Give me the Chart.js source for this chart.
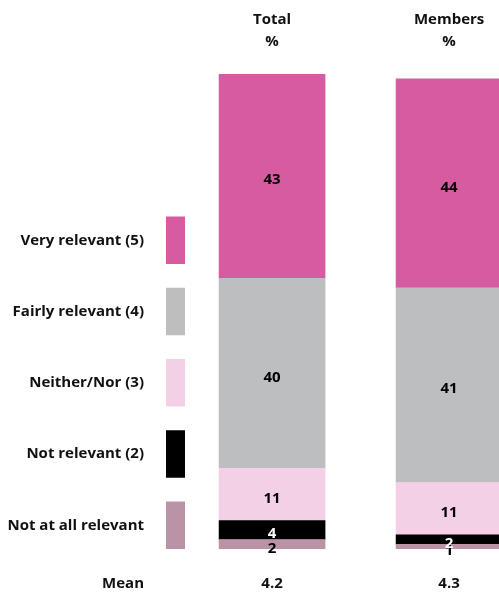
<!DOCTYPE html>
<html>
<head>
<meta charset="utf-8">
<script src="https://cdn.jsdelivr.net/npm/chart.js@4"></script>
<style>
  body { margin: 0; background: #fff; }
  canvas { display: block; }
</style>
</head>
<body>
<canvas id="chart" width="499" height="596"></canvas>
<script>
// ============================
// Data
// ============================
const categories = ["Total", "Members"];
const xPos = [0, 1];
const means = ["4.2", "4.3"];

const veryRelevant   = [43, 44];
const fairlyRelevant = [40, 41];
const neitherNor     = [11, 11];
const notRelevant    = [4, 2];
const notAtAll       = [2, 1];

// bottom to top
const seriesLabels = ["Not at all relevant", "Not relevant (2)", "Neither/Nor (3)", "Fairly relevant (4)", "Very relevant (5)"];
const seriesData   = [notAtAll, notRelevant, neitherNor, fairlyRelevant, veryRelevant];
const seriesColors = ["#bb93a7", "#000000", "#f3d0e5", "#bdbec0", "#d65ba1"];
const labelColors  = ["#000", "#fff", "#000", "#000", "#000"];

const FONT = "bold 15px 'Open Sans', sans-serif";

// ============================
// Plugin: headers, legend, values, mean
// ============================
const extras = {
    id: "extras",
    afterDatasetsDraw(chart) {
        const ctx = chart.ctx;
        const xs = chart.scales.x, ys = chart.scales.y;
        ctx.save();
        ctx.font = FONT;
        ctx.textBaseline = "middle";

        // values inside bars
        ctx.textAlign = "center";
        chart.data.datasets.forEach((ds, i) => {
            chart.getDatasetMeta(i).data.forEach((bar, j) => {
                ctx.fillStyle = labelColors[i];
                ctx.fillText(String(ds.data[j].y), bar.x, (bar.y + bar.base) / 2 + 4);
            });
        });

        // headers and means
        ctx.fillStyle = "#111";
        categories.forEach((c, j) => {
            const x = xs.getPixelForValue(xPos[j]);
            ctx.fillText(c, x, 20);
            ctx.fillText("%", x, 42);
            ctx.fillText(means[j], x, 584);
        });

        // legend column
        seriesLabels.forEach((lab, i) => {
            const top = ys.getPixelForValue(i * 15 + 10);
            const bot = ys.getPixelForValue(i * 15);
            ctx.fillStyle = seriesColors[i];
            ctx.fillRect(166, top, 19, bot - top);
            ctx.fillStyle = "#111";
            ctx.textAlign = "right";
            ctx.fillText(lab, 144, (top + bot) / 2);
        });
        ctx.fillText("Mean", 144, 584);
        ctx.restore();
    }
};

// ============================
// Chart
// ============================
new Chart(document.getElementById("chart"), {
    type: "bar",
    data: {
        datasets: seriesData.map((vals, i) => ({
            label: seriesLabels[i],
            data: vals.map((v, j) => ({ x: xPos[j], y: v })),
            backgroundColor: seriesColors[i],
            borderWidth: 0,
            barThickness: 106
        }))
    },
    options: {
        responsive: false,
        animation: false,
        devicePixelRatio: 1,
        layout: { padding: { top: 74, bottom: 47, left: 0, right: 0 } },
        plugins: { legend: { display: false }, tooltip: { enabled: false } },
        scales: {
            x: { type: "linear", stacked: true, offset: false, min: -1.537, max: 1.282, display: false },
            y: { stacked: true, min: 0, max: 100, display: false }
        }
    },
    plugins: [extras]
});
</script>
</body>
</html>
